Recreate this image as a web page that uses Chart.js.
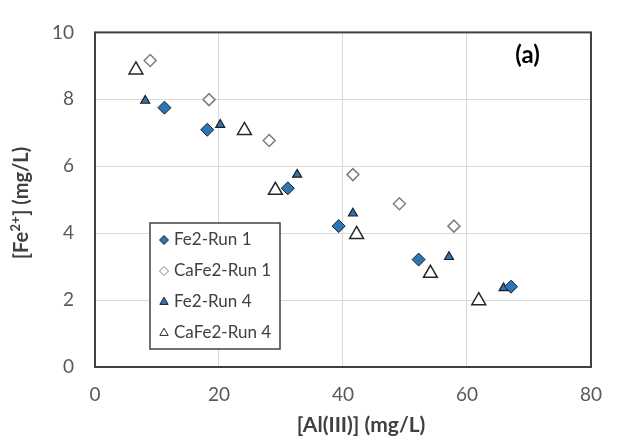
<!DOCTYPE html>
<html><head><meta charset="utf-8">
<script src="https://cdn.jsdelivr.net/npm/chart.js@4.4.1/dist/chart.umd.min.js"></script>
<style>html,body{margin:0;padding:0;background:#fff}#wrap{width:618px;height:448px}</style>
</head><body><div id="wrap"><canvas id="c" width="618" height="448"></canvas></div>
<script>
const seriesNames = ['Fe2-Run 1', 'CaFe2-Run 1', 'Fe2-Run 4', 'CaFe2-Run 4'];
const fe2Run1X = [11.2, 18.1, 31.1, 39.3, 52.2, 67.1];
const fe2Run1Y = [7.75, 7.09, 5.34, 4.21, 3.21, 2.40];
const caFe2Run1X = [8.9, 18.4, 28.1, 41.6, 49.1, 57.9];
const caFe2Run1Y = [9.16, 7.99, 6.77, 5.75, 4.88, 4.21];
const fe2Run4X = [8.1, 20.2, 32.6, 41.6, 57.1, 65.9];
const fe2Run4Y = [7.96, 7.24, 5.75, 4.59, 3.29, 2.36];
const caFe2Run4X = [6.6, 24.1, 29.1, 42.2, 54.1, 61.9];
const caFe2Run4Y = [8.88, 7.07, 5.28, 3.96, 2.80, 1.98];
const xTicks = [0, 20, 40, 60, 80];
const yTicks = [0, 2, 4, 6, 8, 10];
const panelLabel = '(a)';
const xTitle = '[Al(III)] (mg/L)';
const yTitleParts = ['[Fe', '2+', '] (mg/L)'];

const pts = (xs, ys) => xs.map((x, i) => ({x: x, y: ys[i]}));
const FONT = 'Lato, "Open Sans", sans-serif';
const styles = [
  {pointStyle: 'rectRot', pointRadius: 6.5, backgroundColor: '#2e75b6', borderColor: '#1f1f1f', borderWidth: 1, lr: 4.5},
  {pointStyle: 'rectRot', pointRadius: 6, backgroundColor: '#ffffff', borderColor: '#7f7f7f', borderWidth: 1.5, lr: 4.5},
  {pointStyle: 'triangle', pointRadius: 5.2, backgroundColor: '#2e75b6', borderColor: '#1f1f1f', borderWidth: 1.2, lr: 4.8},
  {pointStyle: 'triangle', pointRadius: 8, backgroundColor: '#ffffff', borderColor: '#262626', borderWidth: 1.5, lr: 4.8}
];
const dataList = [pts(fe2Run1X, fe2Run1Y), pts(caFe2Run1X, caFe2Run1Y), pts(fe2Run4X, fe2Run4Y), pts(caFe2Run4X, caFe2Run4Y)];
const datasets = dataList.map((d, i) => ({
  label: seriesNames[i], data: d, showLine: false,
  pointStyle: styles[i].pointStyle, pointRadius: styles[i].pointRadius, pointHoverRadius: styles[i].pointRadius,
  backgroundColor: styles[i].backgroundColor, borderColor: styles[i].borderColor,
  pointBorderWidth: styles[i].borderWidth, borderWidth: styles[i].borderWidth
}));

const overlay = {
  id: 'overlay',
  afterDraw(chart) {
    const ctx = chart.ctx, a = chart.chartArea;
    ctx.save();
    // plot border
    ctx.strokeStyle = '#404040'; ctx.lineWidth = 2;
    ctx.strokeRect(a.left, a.top, a.right - a.left, a.bottom - a.top);
    // panel label
    ctx.fillStyle = '#000'; ctx.font = 'bold 24px ' + FONT;
    ctx.textAlign = 'center'; ctx.textBaseline = 'middle';
    ctx.fillText(panelLabel, 527.5, 55);
    // x axis title
    ctx.fillStyle = '#404040'; ctx.font = 'bold 21px ' + FONT;
    ctx.fillText(xTitle, 361, 425);
    // y axis title with superscript
    ctx.save();
    ctx.translate(22, 203); ctx.rotate(-Math.PI / 2);
    const big = 'bold 20px ' + FONT, small = 'bold 13px ' + FONT;
    ctx.font = big; const w1 = ctx.measureText(yTitleParts[0]).width, w3 = ctx.measureText(yTitleParts[2]).width;
    ctx.font = small; const w2 = ctx.measureText(yTitleParts[1]).width + 1;
    let x0 = -(w1 + w2 + w3) / 2;
    ctx.textAlign = 'left';
    ctx.font = big; ctx.fillText(yTitleParts[0], x0, 0);
    ctx.font = small; ctx.fillText(yTitleParts[1], x0 + w1 + 0.5, -6);
    ctx.font = big; ctx.fillText(yTitleParts[2], x0 + w1 + w2, 0);
    ctx.restore();
    // legend box
    const bx = 150, by = 223, bw = 130, bh = 126;
    ctx.fillStyle = '#fff'; ctx.fillRect(bx, by, bw, bh);
    ctx.strokeStyle = '#404040'; ctx.lineWidth = 1.5; ctx.strokeRect(bx, by, bw, bh);
    ctx.textAlign = 'left'; ctx.textBaseline = 'middle';
    chart.data.datasets.forEach((ds, i) => {
      const y = 240 + i * 31;
      ctx.fillStyle = styles[i].backgroundColor; ctx.strokeStyle = styles[i].borderColor; ctx.lineWidth = 1;
      Chart.helpers.drawPoint(ctx, {pointStyle: styles[i].pointStyle, radius: styles[i].lr, borderWidth: 1, rotation: 0}, 164, y);
      ctx.fillStyle = '#404040'; ctx.font = '17px ' + FONT;
      ctx.fillText(ds.label, 174, y);
    });
    ctx.restore();
  }
};

new Chart(document.getElementById('c'), {
  type: 'scatter',
  data: {datasets: datasets},
  options: {
    responsive: false, animation: false, devicePixelRatio: 1,
    layout: {padding: {left: 0, top: 18, right: 16, bottom: 0}},
    plugins: {legend: {display: false}, tooltip: {enabled: false}},
    scales: {
      x: {
        type: 'linear', min: 0, max: 80,
        afterBuildTicks: s => { s.ticks = xTicks.map(v => ({value: v})); },
        afterFit: s => { s.height = 81; },
        grid: {color: '#d9d9d9', lineWidth: 1, drawTicks: false},
        border: {display: false},
        ticks: {padding: 16, color: '#595959', font: {family: FONT, size: 19}},
        title: {display: false}
      },
      y: {
        type: 'linear', min: 0, max: 10,
        afterBuildTicks: s => { s.ticks = yTicks.map(v => ({value: v})); },
        afterFit: s => { s.width = 95; },
        grid: {color: '#d9d9d9', lineWidth: 1, drawTicks: false},
        border: {display: false},
        ticks: {padding: 21, color: '#595959', font: {family: FONT, size: 19}},
        title: {display: false}
      }
    }
  },
  plugins: [overlay]
});
</script></body></html>
